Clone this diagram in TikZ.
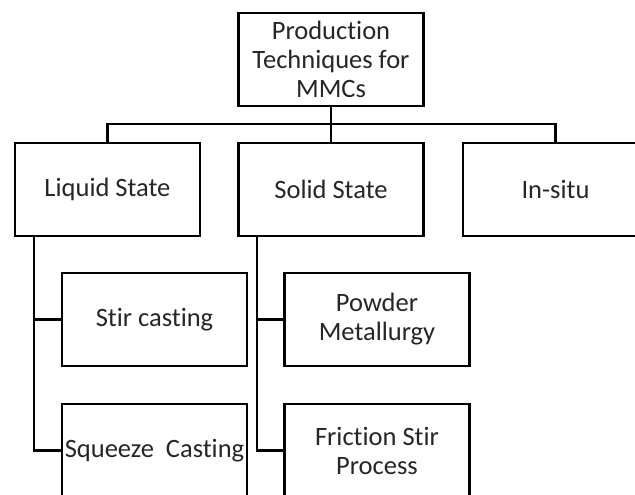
\documentclass[tikz,border=0pt]{standalone}
\usepackage{fontspec}
\setmainfont{Carlito}[Ligatures=CommonOff]
\begin{document}
\begin{tikzpicture}[x=1pt,y=-1pt,
  box/.style={draw=black,line width=2.8pt,fill=white,minimum width=185pt,minimum height=93pt,
    inner sep=0pt,align=center,font=\fontsize{26.5}{29}\selectfont,text=black!85},
  conn/.style={draw=black,line width=2.8pt}]
\clip (0,0) rectangle (635,495);
\fill[white] (0,0) rectangle (635,495);
\node[box] (top) at (331,59.5) {Production\\Techniques for\\MMCs};
\node[box] (liquid) at (107.5,189.5) {Liquid State};
\node[box] (solid) at (331,189.5) {Solid State};
\node[box] (insitu) at (555.5,189.5) {In-situ};
\node[box] (stir) at (154.5,319.5) {Stir casting};
\node[box] (powder) at (377,319.5) {Powder\\Metallurgy};
\node[box] (squeeze) at (154.5,450.5) {Squeeze\ \ Casting};
\node[box] (friction) at (377,450.5) {Friction Stir\\Process};
\coordinate (bar) at (331,124);
\coordinate (lv) at (34,236);
\coordinate (sv) at (257,236);
\draw[conn] (top.south) -- (solid.north);
\draw[conn] (liquid.north) |- (bar) -| (insitu.north);
\draw[conn] (lv) |- (stir.west);
\draw[conn] (lv) |- (squeeze.west);
\draw[conn] (sv) |- (powder.west);
\draw[conn] (sv) |- (friction.west);
\end{tikzpicture}
\end{document}
